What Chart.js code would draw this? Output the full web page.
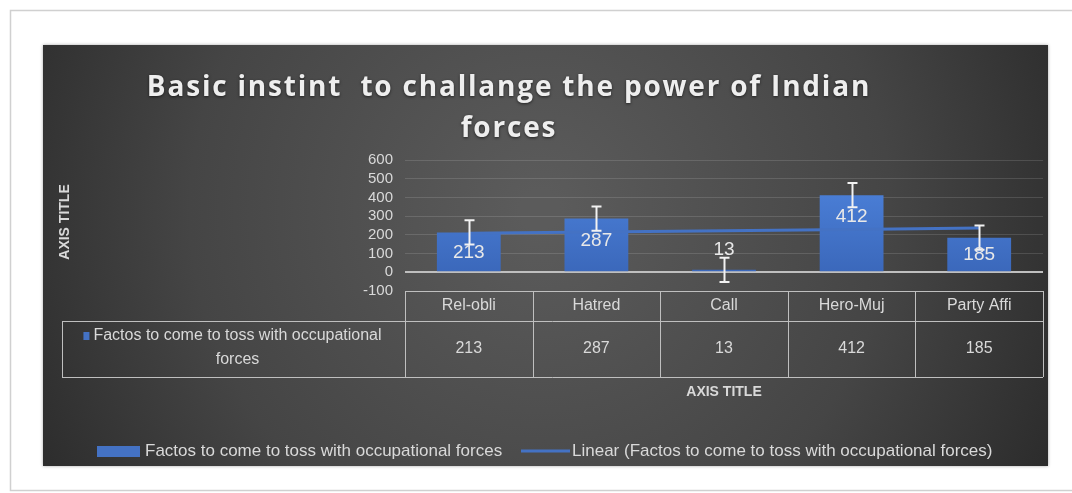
<!DOCTYPE html>
<html>
<head>
<meta charset="utf-8">
<script src="https://cdn.jsdelivr.net/npm/chart.js@4"></script>
<style>
  html, body { margin: 0; padding: 0; background: #fff; }
  #wrap { width: 1072px; height: 493px; }
</style>
</head>
<body>
<div id="wrap"><canvas id="basicChart" width="1072" height="493"></canvas></div>
<script>
const categories = ['Rel-obli', 'Hatred', 'Call', 'Hero-Muj', 'Party Affi'];
const values = [213, 287, 13, 412, 185];
const trendValues = [208, 215, 222, 229, 236];
const errorAmounts = [65, 65, 65, 65, 65];
const yTicks = [-100, 0, 100, 200, 300, 400, 500, 600];
const seriesName = 'Factos to come to toss with occupational forces';
const trendName = 'Linear (Factos to come to toss with occupational forces)';
const titleLines = ['Basic instint  to challange the power of Indian', 'forces'];

const FONT = "'Liberation Sans Narrow', 'Liberation Sans', Arial, sans-serif";
const TEXT = '#d9d9d9';
const BLUE = '#4472C4';

const frame = {
    id: 'frame',
    beforeDraw(chart) {
        const ctx = chart.ctx;
        ctx.save();
        ctx.fillStyle = '#ffffff';
        ctx.fillRect(0, 0, chart.width, chart.height);
        ctx.strokeStyle = '#d0d0d0';
        ctx.lineWidth = 1.5;
        ctx.strokeRect(10.5, 10.5, 1080, 480);
        // dark chart box
        const g = ctx.createRadialGradient(540, 210, 20, 540, 210, 620);
        g.addColorStop(0, '#5b5b5b');
        g.addColorStop(0.55, '#454545');
        g.addColorStop(1, '#262626');
        ctx.shadowColor = 'rgba(0,0,0,0.35)';
        ctx.shadowBlur = 3;
        ctx.fillStyle = g;
        ctx.fillRect(43, 45, 1005, 421);
        ctx.restore();
    }
};

const extras = {
    id: 'extras',
    afterDatasetsDraw(chart) {
        const ctx = chart.ctx;
        const x = chart.scales.x, y = chart.scales.y;
        ctx.save();
        // error bars
        ctx.strokeStyle = '#f2f2f2';
        ctx.lineWidth = 2;
        values.forEach((v, i) => {
            const cx = Math.round(x.getPixelForValue(i)) + 0.5;
            const top = y.getPixelForValue(v + errorAmounts[i]);
            const bot = y.getPixelForValue(v - errorAmounts[i]);
            ctx.beginPath();
            ctx.moveTo(cx, top); ctx.lineTo(cx, bot);
            ctx.moveTo(cx - 5, top); ctx.lineTo(cx + 5, top);
            ctx.moveTo(cx - 5, bot); ctx.lineTo(cx + 5, bot);
            ctx.stroke();
        });
        // data labels
        ctx.fillStyle = '#e8e8e8';
        ctx.font = '19px ' + FONT;
        ctx.textAlign = 'center';
        ctx.textBaseline = 'middle';
        const zero = y.getPixelForValue(0);
        values.forEach((v, i) => {
            const cx = x.getPixelForValue(i);
            const top = y.getPixelForValue(v);
            let ly;
            if (zero - top < 30) ly = top - 20;
            else ly = Math.min((top + zero) / 2, top + 22);
            ctx.fillText(String(v), cx, ly);
        });
        ctx.restore();
    },
    afterDraw(chart) {
        const ctx = chart.ctx;
        const x = chart.scales.x, area = chart.chartArea;
        ctx.save();
        // title
        ctx.fillStyle = '#eeeeee';
        ctx.shadowColor = 'rgba(0,0,0,0.6)';
        ctx.shadowBlur = 3;
        ctx.shadowOffsetY = 1;
        ctx.font = "bold 28px 'Open Sans', sans-serif";
        ctx.letterSpacing = '1.8px';
        ctx.textAlign = 'center';
        ctx.textBaseline = 'alphabetic';
        ctx.fillText(titleLines[0], 509, 96);
        ctx.fillText(titleLines[1], 509, 137);
        ctx.letterSpacing = '0px';
        ctx.shadowColor = 'transparent';

        // data table
        const colW = (area.right - area.left) / categories.length;
        const hTop = area.bottom, hBot = area.bottom + 30, rBot = hBot + 56, left = 62;
        ctx.strokeStyle = '#bfbfbf';
        ctx.lineWidth = 1;
        ctx.beginPath();
        ctx.moveTo(area.left, hTop + 0.5); ctx.lineTo(area.right, hTop + 0.5);
        ctx.moveTo(left, hBot + 0.5); ctx.lineTo(area.right, hBot + 0.5);
        ctx.moveTo(left, rBot + 0.5); ctx.lineTo(area.right, rBot + 0.5);
        ctx.moveTo(left + 0.5, hBot); ctx.lineTo(left + 0.5, rBot);
        for (let i = 0; i <= categories.length; i++) {
            const lx = Math.round(area.left + i * colW) + 0.5;
            ctx.moveTo(lx, hTop); ctx.lineTo(lx, rBot);
        }
        ctx.stroke();
        ctx.fillStyle = TEXT;
        ctx.font = '16px ' + FONT;
        ctx.textAlign = 'center';
        ctx.textBaseline = 'middle';
        categories.forEach((c, i) => {
            const cx = x.getPixelForValue(i);
            ctx.fillText(c, cx, (hTop + hBot) / 2);
            ctx.fillText(String(values[i]), cx, (hBot + rBot) / 2);
        });
        const line1 = 'Factos to come to toss with occupational';
        const w1 = ctx.measureText(line1).width;
        const cellC = (left + area.left) / 2 + 4;
        ctx.fillText(line1, cellC, hBot + 15);
        ctx.fillText('forces', cellC, hBot + 39);
        ctx.fillStyle = BLUE;
        ctx.fillRect(cellC - w1 / 2 - 10, hBot + 11, 6, 8);

        // axis titles
        ctx.fillStyle = TEXT;
        ctx.font = 'bold 14px ' + FONT;
        ctx.fillText('AXIS TITLE', (area.left + area.right) / 2, 392);
        ctx.save();
        ctx.translate(65, 222);
        ctx.rotate(-Math.PI / 2);
        ctx.fillText('AXIS TITLE', 0, 0);
        ctx.restore();

        // legend
        ctx.font = '17px ' + FONT;
        ctx.textAlign = 'left';
        ctx.fillStyle = BLUE;
        ctx.fillRect(97, 446, 43, 11);
        ctx.fillStyle = TEXT;
        ctx.fillText(seriesName, 145, 451);
        ctx.strokeStyle = BLUE;
        ctx.lineWidth = 3;
        ctx.beginPath();
        ctx.moveTo(521, 451); ctx.lineTo(570, 451);
        ctx.stroke();
        ctx.fillText(trendName, 572, 451);
        ctx.restore();
    }
};

const ctx = document.getElementById('basicChart').getContext('2d');
const barFill = ctx.createLinearGradient(0, 190, 0, 272);
barFill.addColorStop(0, '#4a7ed6');
barFill.addColorStop(1, '#3b68bb');

new Chart(ctx, {
    type: 'bar',
    data: {
        labels: categories,
        datasets: [{
            type: 'line',
            label: trendName,
            data: trendValues,
            borderColor: BLUE,
            borderWidth: 3,
            pointRadius: 0,
            tension: 0,
            order: 0
        }, {
            label: seriesName,
            data: values,
            backgroundColor: barFill,
            categoryPercentage: 1,
            barPercentage: 0.5,
            order: 1
        }]
    },
    options: {
        responsive: false,
        animation: false,
        layout: { padding: { left: 345, right: 29, top: 160, bottom: 202 } },
        plugins: { legend: { display: false }, tooltip: { enabled: false } },
        scales: {
            x: { display: false, offset: true },
            y: {
                min: -100,
                max: 600,
                afterFit: s => { s.width = 60; },
                afterBuildTicks: s => { s.ticks = yTicks.map(v => ({ value: v })); },
                border: { display: false },
                grid: {
                    drawTicks: false,
                    color: c => c.tick && c.tick.value === 0 ? '#bfbfbf' : 'rgba(255,255,255,0.13)',
                    lineWidth: c => c.tick && c.tick.value === 0 ? 2 : 1
                },
                ticks: { color: TEXT, font: { size: 15, family: FONT }, padding: 12, autoSkip: false }
            }
        }
    },
    plugins: [frame, extras]
});
</script>
</body>
</html>
